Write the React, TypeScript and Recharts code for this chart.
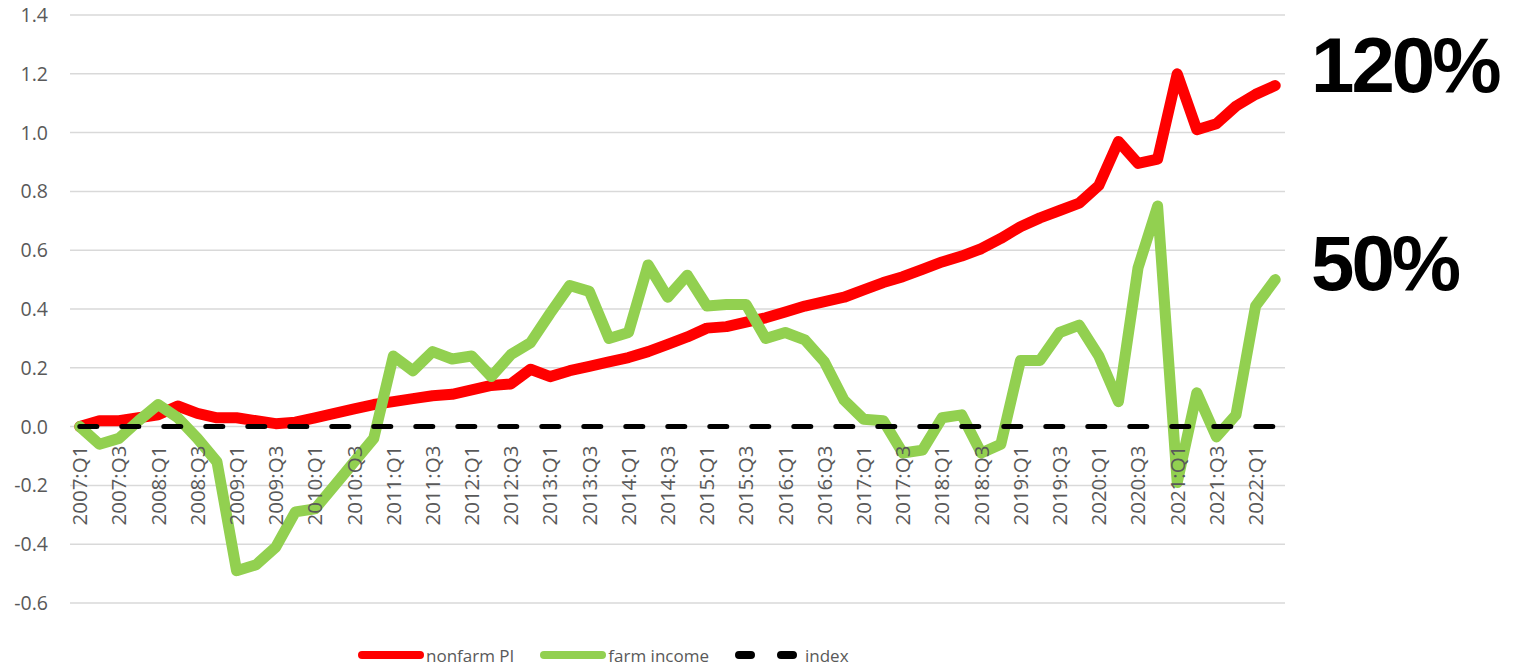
import React from "react";
import { LineChart, Line, XAxis, YAxis, CartesianGrid } from "recharts";

const quarters = [
  "2007:Q1", "2007:Q2", "2007:Q3", "2007:Q4", "2008:Q1", "2008:Q2", "2008:Q3", "2008:Q4",
  "2009:Q1", "2009:Q2", "2009:Q3", "2009:Q4", "2010:Q1", "2010:Q2", "2010:Q3", "2010:Q4",
  "2011:Q1", "2011:Q2", "2011:Q3", "2011:Q4", "2012:Q1", "2012:Q2", "2012:Q3", "2012:Q4",
  "2013:Q1", "2013:Q2", "2013:Q3", "2013:Q4", "2014:Q1", "2014:Q2", "2014:Q3", "2014:Q4",
  "2015:Q1", "2015:Q2", "2015:Q3", "2015:Q4", "2016:Q1", "2016:Q2", "2016:Q3", "2016:Q4",
  "2017:Q1", "2017:Q2", "2017:Q3", "2017:Q4", "2018:Q1", "2018:Q2", "2018:Q3", "2018:Q4",
  "2019:Q1", "2019:Q2", "2019:Q3", "2019:Q4", "2020:Q1", "2020:Q2", "2020:Q3", "2020:Q4",
  "2021:Q1", "2021:Q2", "2021:Q3", "2021:Q4", "2022:Q1", "2022:Q2",
];

const nonfarmPI = [
  0.0, 0.02, 0.02, 0.03, 0.04, 0.07, 0.045, 0.03, 0.03, 0.02,
  0.01, 0.015, 0.03, 0.045, 0.06, 0.075, 0.085, 0.095, 0.105, 0.11,
  0.125, 0.14, 0.145, 0.195, 0.17, 0.19, 0.205, 0.22, 0.235, 0.255,
  0.28, 0.305, 0.335, 0.34, 0.355, 0.37, 0.39, 0.41, 0.425, 0.44,
  0.465, 0.49, 0.51, 0.535, 0.56, 0.58, 0.605, 0.64, 0.68, 0.71,
  0.735, 0.76, 0.82, 0.97, 0.895, 0.91, 1.2, 1.01, 1.03, 1.09,
  1.13, 1.16,
];

const farmIncome = [
  0.0, -0.06, -0.04, 0.02, 0.075, 0.03, -0.04, -0.12, -0.49, -0.47,
  -0.41, -0.29, -0.28, -0.2, -0.12, -0.04, 0.24, 0.19, 0.255, 0.23,
  0.24, 0.17, 0.245, 0.285, 0.385, 0.48, 0.46, 0.3, 0.32, 0.55,
  0.44, 0.515, 0.41, 0.415, 0.415, 0.3, 0.32, 0.295, 0.22, 0.09,
  0.025, 0.02, -0.09, -0.08, 0.03, 0.04, -0.09, -0.06, 0.225, 0.225,
  0.32, 0.345, 0.24, 0.085, 0.54, 0.75, -0.19, 0.115, -0.035, 0.04,
  0.41, 0.5,
];

const indexLine = [
  0, 0, 0, 0, 0, 0, 0, 0, 0, 0, 0, 0, 0, 0, 0, 0, 0, 0, 0, 0,
  0, 0, 0, 0, 0, 0, 0, 0, 0, 0, 0, 0, 0, 0, 0, 0, 0, 0, 0, 0,
  0, 0, 0, 0, 0, 0, 0, 0, 0, 0, 0, 0, 0, 0, 0, 0, 0, 0, 0, 0,
  0, 0,
];

const yTicks = [-0.6, -0.4, -0.2, 0, 0.2, 0.4, 0.6, 0.8, 1.0, 1.2, 1.4];
const annotations = ["120%", "50%"];

const data = quarters.map((q, i) => ({
  q,
  nonfarm: nonfarmPI[i],
  farm: farmIncome[i],
  index: indexLine[i],
}));

const W = 1521;
const H = 667;
const xAxisH = 30;
const margin = { top: 15, right: 236, bottom: 34, left: 0 };
const yMin = -0.6;
const yMax = 1.4;
const plotH = H - margin.top - margin.bottom - xAxisH;
// pixel row of value 0, where Excel puts the category labels
const zeroY = margin.top + ((yMax - 0) / (yMax - yMin)) * plotH;

const labelFont = "'Open Sans', 'Liberation Sans', sans-serif";
const grey = "#595959";

const series = [
  { key: "nonfarm", name: "nonfarm PI", color: "#FF0000", width: 11, dash: undefined as string | undefined },
  { key: "farm", name: "farm income", color: "#92D050", width: 11, dash: undefined as string | undefined },
  { key: "index", name: "index", color: "#000000", width: 5, dash: "17 25" },
];

function QuarterTick(props: any) {
  const { x, payload } = props;
  const y0 = zeroY + 19;
  return (
    <text
      x={x}
      y={y0}
      transform={`rotate(-90 ${x} ${y0})`}
      textAnchor="end"
      dy="0.36em"
      fill={grey}
      fontSize={20.5}
      fontFamily={labelFont}
    >
      {payload.value}
    </text>
  );
}

function LegendRow() {
  return (
    <div
      style={{
        position: "absolute",
        left: 358,
        top: 643,
        display: "flex",
        alignItems: "center",
        fontFamily: labelFont,
        fontSize: 17,
        color: grey,
        whiteSpace: "nowrap",
      }}
    >
      {series.map((s, i) => (
        <div key={s.key} style={{ display: "flex", alignItems: "center", marginLeft: i === 0 ? 0 : 26 }}>
          <svg width={s.dash ? 64 : 66} height={24} style={{ marginRight: s.dash ? 6 : 2 }}>
            {s.dash ? (
              <line x1={4} y1={12} x2={58} y2={12} stroke={s.color} strokeWidth={8}
                strokeLinecap="round" strokeDasharray="12 30" />
            ) : (
              <line x1={4} y1={12} x2={62} y2={12} stroke={s.color} strokeWidth={8} strokeLinecap="round" />
            )}
          </svg>
          <span>{s.name}</span>
        </div>
      ))}
    </div>
  );
}

export default function App() {
  return (
    <div style={{ position: "absolute", left: 0, top: 0, width: W, height: H, background: "#fff" }}>
      <LineChart width={W} height={H} data={data} margin={margin}>
        <CartesianGrid vertical={false} stroke="#d9d9d9" strokeWidth={1.5} />
        <XAxis
          dataKey="q"
          scale="band"
          interval={1}
          axisLine={false}
          tickLine={false}
          height={xAxisH}
          tick={<QuarterTick />}
        />
        <YAxis
          domain={[yMin, yMax]}
          ticks={yTicks}
          width={70}
          axisLine={false}
          tickLine={false}
          tickSize={0}
          tickMargin={22}
          tickFormatter={(v: number) => v.toFixed(1)}
          tick={{ fill: grey, fontSize: 19.5, fontFamily: labelFont }}
        />
        {series.map((s) => (
          <Line
            key={s.key}
            dataKey={s.key}
            name={s.name}
            stroke={s.color}
            strokeWidth={s.width}
            strokeDasharray={s.dash}
            strokeLinecap="round"
            strokeLinejoin="round"
            dot={false}
            activeDot={false}
            isAnimationActive={false}
            type="linear"
          />
        ))}
      </LineChart>
      <svg width={W} height={H} style={{ position: "absolute", left: 0, top: 0, pointerEvents: "none" }}>
        <text x={1311} y={92} fontSize={78} fontWeight="bold" letterSpacing={-3}
          fontFamily="'Liberation Sans', Arial, sans-serif" fill="#000">
          {annotations[0]}
        </text>
        <text x={1311} y={290} fontSize={78} fontWeight="bold" letterSpacing={-3}
          fontFamily="'Liberation Sans', Arial, sans-serif" fill="#000">
          {annotations[1]}
        </text>
      </svg>
      <LegendRow />
    </div>
  );
}
